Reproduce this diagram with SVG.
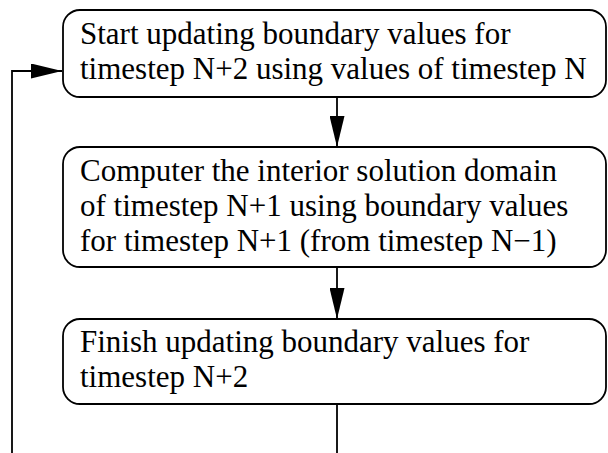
<svg xmlns="http://www.w3.org/2000/svg" width="608" height="453" viewBox="0 0 608 453">
<defs>
<style>
.box{fill:#fff;stroke:#000;stroke-width:1.8}
.t{font-family:"Liberation Serif","Times New Roman",serif;font-size:31px;fill:#000}
.ln{fill:none;stroke:#000;stroke-width:1.8}
</style>
<marker id="ah" viewBox="0 0 31 15" refX="31" refY="7.5" markerWidth="31" markerHeight="15" markerUnits="userSpaceOnUse" orient="auto">
<path d="M0,0 L31,7.5 L0,15 Z" fill="#000"/>
</marker>
</defs>
<rect width="608" height="453" fill="#fff"/>
<g id="connectors">
<line class="ln" x1="337" y1="97" x2="337" y2="147" marker-end="url(#ah)"/>
<line class="ln" x1="337" y1="267" x2="337" y2="319" marker-end="url(#ah)"/>
<polyline class="ln" points="337,404 337,460"/>
<polyline class="ln" points="12,460 12,71 62,71" marker-end="url(#ah)"/>
</g>
<g id="node1">
<rect class="box" x="63" y="10" width="543" height="87" rx="17"/>
<text class="t" x="80" y="44">Start updating boundary values for</text>
<text class="t" x="80" y="79">timestep N+2 using values of timestep N</text>
</g>
<g id="node2">
<rect class="box" x="63" y="147" width="543" height="120" rx="17"/>
<text class="t" x="80" y="181">Computer the interior solution domain</text>
<text class="t" x="80" y="216">of timestep N+1 using boundary values</text>
<text class="t" x="80" y="251">for timestep N+1 (from timestep N−1)</text>
</g>
<g id="node3">
<rect class="box" x="63" y="319" width="543" height="85" rx="17"/>
<text class="t" x="80" y="352">Finish updating boundary values for</text>
<text class="t" x="80" y="387">timestep N+2</text>
</g>
</svg>
